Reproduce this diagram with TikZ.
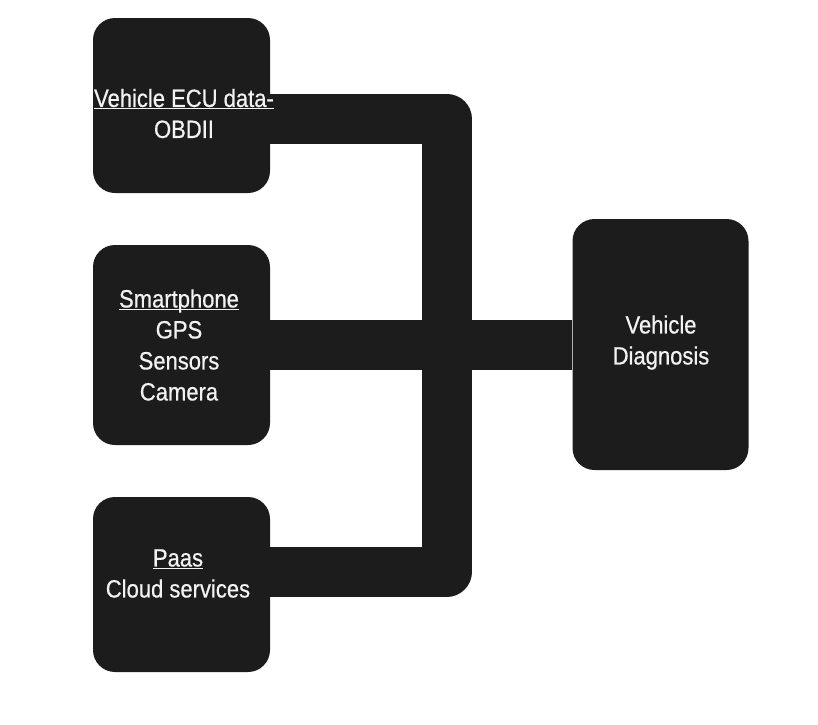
\documentclass[tikz,border=0pt]{standalone}
\usepackage{fontspec}
\setmainfont[FakeStretch=0.88,FakeBold=0.6]{Liberation Sans}
\definecolor{boxfill}{HTML}{1C1C1C}
\definecolor{txtcol}{HTML}{F2F2F2}
\newcommand\myul[1]{\underline{\raisebox{0pt}[\height][0pt]{#1}}}
\begin{document}
\begin{tikzpicture}[x=1pt,y=-1pt,
  blk/.style={fill=boxfill,draw=none,rounded corners=22pt,inner sep=0pt,
    minimum width=177pt},
  lbl/.style={text=txtcol,align=center,inner sep=0pt,
    font=\fontsize{25}{31}\selectfont},
  bar/.style={draw=boxfill,line width=50pt,line join=round}]
\useasboundingbox (0,0) rectangle (818,724);
% boxes
\node[blk,minimum height=175pt] (ecu) at (181.5,105.5) {};
\node[blk,minimum height=200pt] (phone) at (181.5,345) {};
\node[blk,minimum height=175pt] (paas) at (181.5,584.5) {};
\node[blk,minimum width=176pt,minimum height=251pt] (diag) at (660.5,344.5) {};
% connectors
\coordinate (jt) at (446.5,118.5);
\coordinate (jb) at (446.5,572);
\draw[bar] (ecu.east |- jt) -- (jt) -- (jb) -- (paas.east |- jb);
\draw[bar] (phone.east) -- (diag.west |- phone.east);
% texts
\node[lbl] (ecut) at (184,113.5) {\myul{Vehicle ECU data-}\\OBDII};
\node[lbl] (phonet) at (179,345) {\myul{Smartphone}\\GPS\\Sensors\\Camera};
\node[lbl] (paast) at (178,573.5) {\myul{Paas}\\Cloud services};
\node[lbl] (diagt) at (661,342.5) {Vehicle\\Diagnosis};
\end{tikzpicture}
\end{document}
